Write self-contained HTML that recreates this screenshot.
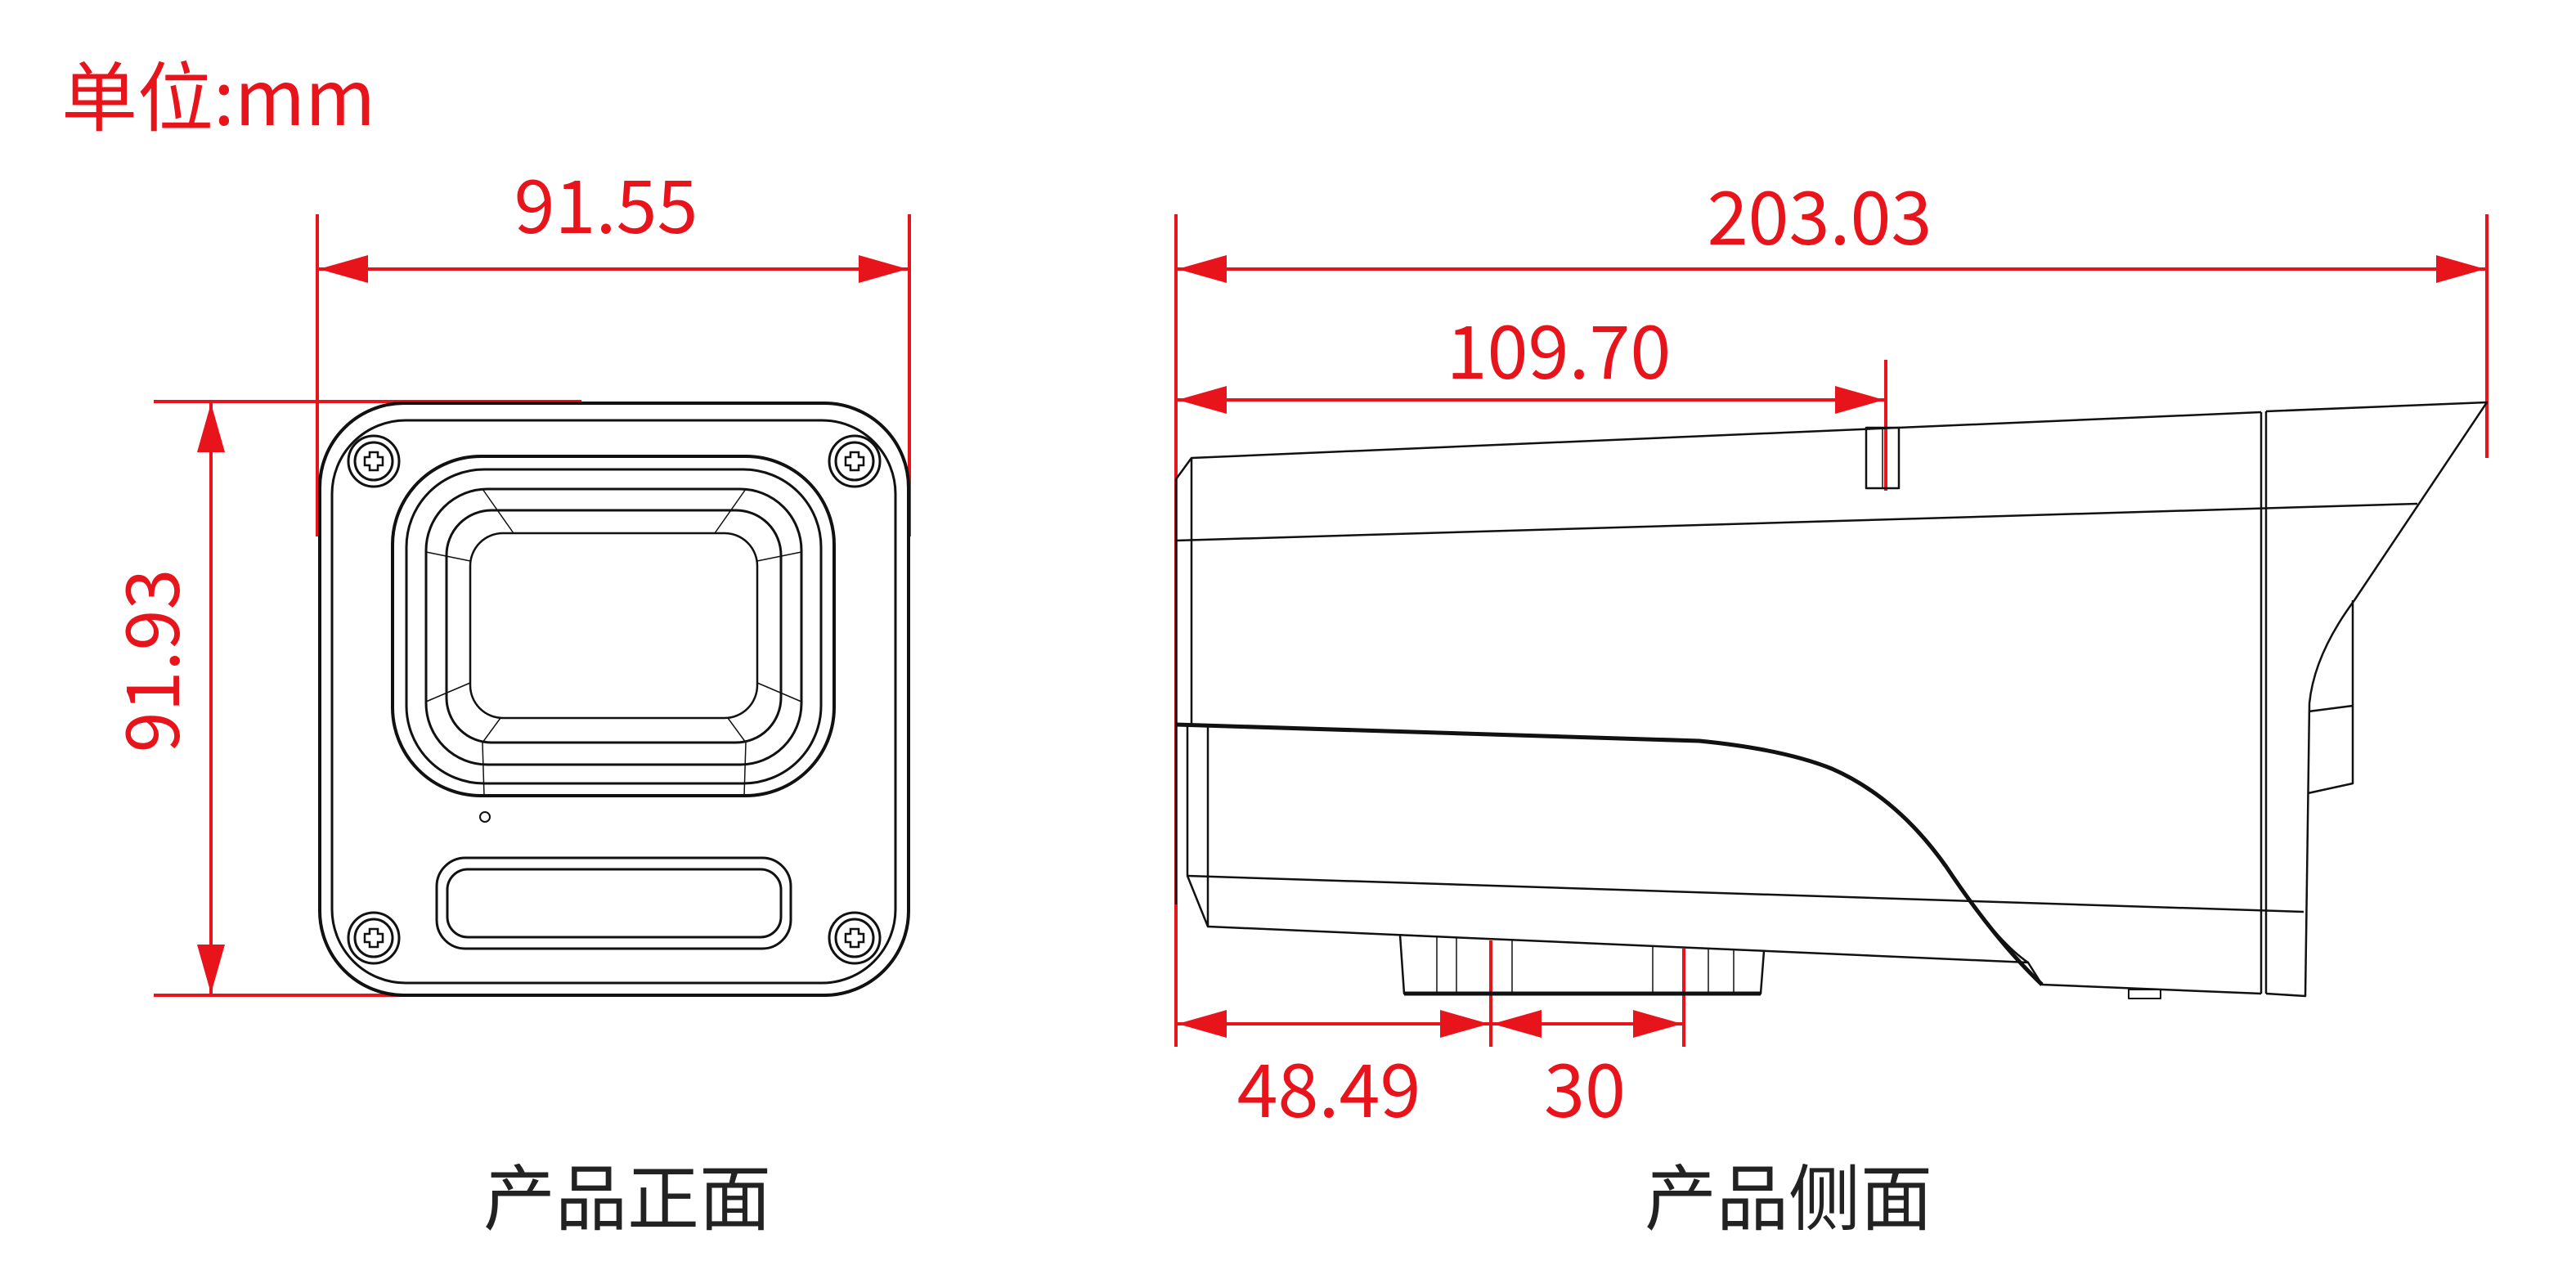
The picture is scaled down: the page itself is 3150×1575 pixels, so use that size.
<!DOCTYPE html>
<html><head><meta charset="utf-8"><style>html,body{margin:0;padding:0;background:#fff}svg{display:block}</style></head>
<body>
<svg width="3150" height="1575" viewBox="0 0 3150 1575" xmlns="http://www.w3.org/2000/svg">
<defs>
<marker id="a" markerWidth="60" markerHeight="34" refX="60" refY="17" orient="auto-start-reverse" markerUnits="userSpaceOnUse"><path d="M0,0 L60,17 L0,34 Z" fill="#e8141c"/></marker>
</defs>
<g font-family="'Noto Sans CJK SC','Liberation Sans',sans-serif">
<text x="75" y="153" font-size="93" fill="#e8141c">单位:mm</text>
<text x="767" y="1497" font-size="88" fill="#222" text-anchor="middle">产品正面</text>
<text x="2187" y="1497" font-size="88" fill="#222" text-anchor="middle">产品侧面</text>
<g fill="#e8141c" font-size="90" text-anchor="middle">
<text x="741" y="285">91.55</text>
<text x="2225" y="299">203.03</text>
<text x="1906" y="463">109.70</text>
<text x="1625" y="1366">48.49</text>
<text x="1938" y="1366">30</text>
<text transform="translate(186,808) rotate(-90)" x="0" y="33">91.93</text>
</g>
</g>
<g stroke="#e8141c" stroke-width="4" fill="none">
<line x1="388" y1="262" x2="388" y2="656"/><line x1="1112" y1="262" x2="1112" y2="656"/>
<line x1="390" y1="329" x2="1110" y2="329" marker-start="url(#a)" marker-end="url(#a)"/>
<line x1="188" y1="491" x2="711" y2="491"/><line x1="188" y1="1217" x2="747" y2="1217"/>
<line x1="258" y1="493" x2="258" y2="1215" marker-start="url(#a)" marker-end="url(#a)"/>
<line x1="1438" y1="262" x2="1438" y2="1280"/><line x1="3041" y1="262" x2="3041" y2="560"/>
<line x1="2306" y1="440" x2="2306" y2="600"/>
<line x1="1440" y1="329" x2="3039" y2="329" marker-start="url(#a)" marker-end="url(#a)"/>
<line x1="1440" y1="489" x2="2304" y2="489" marker-start="url(#a)" marker-end="url(#a)"/>
<line x1="1823" y1="1150" x2="1823" y2="1280"/><line x1="2059" y1="1160" x2="2059" y2="1280"/>
<line x1="1440" y1="1252" x2="1821" y2="1252" marker-start="url(#a)" marker-end="url(#a)"/>
<line x1="1825" y1="1252" x2="2057" y2="1252" marker-start="url(#a)" marker-end="url(#a)"/>
</g>
<g stroke="#111" fill="none" stroke-width="4">
<rect x="391" y="493" width="720" height="724" rx="103"/>
<rect x="406" y="514" width="689" height="688" rx="90" stroke-width="3"/>
<rect x="480" y="558" width="540" height="415" rx="108"/>
<rect x="497" y="574" width="507" height="384" rx="95" stroke-width="3"/>
<rect x="521" y="598" width="459" height="337" rx="75" stroke-width="3"/>
<rect x="546" y="624" width="409" height="284" rx="55" stroke-width="3"/>
<rect x="575" y="652" width="351" height="226" rx="40" stroke-width="2.5"/>
<g stroke-width="1.5">
<line x1="590" y1="598" x2="628" y2="652"/><line x1="912" y1="598" x2="874" y2="652"/>
<line x1="590" y1="908" x2="612" y2="878"/><line x1="912" y1="908" x2="890" y2="878"/>
<line x1="521" y1="675" x2="575" y2="686"/><line x1="980" y1="675" x2="926" y2="686"/>
<line x1="521" y1="858" x2="575" y2="835"/><line x1="980" y1="858" x2="926" y2="835"/>
<line x1="590" y1="908" x2="592" y2="973"/><line x1="912" y1="908" x2="910" y2="973"/>
</g>
<circle cx="593" cy="999" r="6" stroke-width="2"/>
<rect x="534" y="1049" width="433" height="111" rx="35" stroke-width="3"/>
<rect x="547" y="1063" width="408" height="83" rx="25" stroke-width="3"/>
<g stroke-width="3">
<circle cx="457" cy="564" r="31"/><circle cx="457" cy="564" r="23"/>
<circle cx="1045" cy="564" r="31"/><circle cx="1045" cy="564" r="23"/>
<circle cx="457" cy="1147" r="31"/><circle cx="457" cy="1147" r="23"/>
<circle cx="1045" cy="1147" r="31"/><circle cx="1045" cy="1147" r="23"/>
</g>
<g stroke-width="2.5">
<path d="M452,553h10v6h6v10h-6v6h-10v-6h-6v-10h6z"/>
<path d="M1040,553h10v6h6v10h-6v6h-10v-6h-6v-10h6z"/>
<path d="M452,1136h10v6h6v10h-6v6h-10v-6h-6v-10h6z"/>
<path d="M1040,1136h10v6h6v10h-6v6h-10v-6h-6v-10h6z"/>
</g>
</g>
<g stroke="#111" fill="none" stroke-width="2.5" stroke-linejoin="round">
<path d="M1438,586 L1457,560 L2765,504"/>
<path d="M2771,503 L3041,492 L2879,734 Q2830,800 2824,860 L2819,1218 L2771,1215"/>
<line x1="2765" y1="504" x2="2765" y2="1215"/><line x1="2771" y1="503" x2="2771" y2="1215"/>
<line x1="1438" y1="586" x2="1438" y2="1106"/>
<line x1="1457" y1="560" x2="1457" y2="887"/>
<line x1="1438" y1="661" x2="2956" y2="616"/>
<path d="M1438,886 L1452,887 L1452,1071 L1477,1133 L1477,887"/>
<path d="M2078,906 Q2180,916 2240,940 Q2320,975 2380,1060 Q2440,1150 2480,1177"/>
<line x1="1452" y1="1071" x2="2817" y2="1115"/>
<line x1="1477" y1="1133" x2="2481" y2="1177"/>
<path d="M2480,1177 L2497,1204 L2765,1215"/>
<path d="M2877,734 L2877,958 L2822,970 M2823,870 L2877,863"/>
<rect x="2282" y="523" width="40" height="74"/><line x1="2302" y1="523" x2="2302" y2="597" stroke-width="1.5"/>
<path d="M1712,1143 L1717,1215 L2153,1215 L2157,1163" />
<line x1="1717" y1="1215" x2="2153" y2="1215" stroke-width="5"/>
<g stroke-width="1.5"><line x1="1757" y1="1146" x2="1757" y2="1215"/><line x1="1781" y1="1147" x2="1781" y2="1215"/><line x1="1849" y1="1150" x2="1849" y2="1215"/><line x1="2021" y1="1157" x2="2021" y2="1215"/><line x1="2089" y1="1160" x2="2089" y2="1215"/><line x1="2120" y1="1161" x2="2120" y2="1215"/><line x1="1712" y1="1143" x2="2157" y2="1163"/></g>
<rect x="2603" y="1210" width="39" height="11" stroke-width="2"/>
</g>
<path d="M1438,886 L2078,906 Q2180,916 2240,940 Q2320,975 2380,1060 Q2440,1150 2497,1204" stroke="#111" stroke-width="5" fill="none"/>
</svg>
</body></html>
